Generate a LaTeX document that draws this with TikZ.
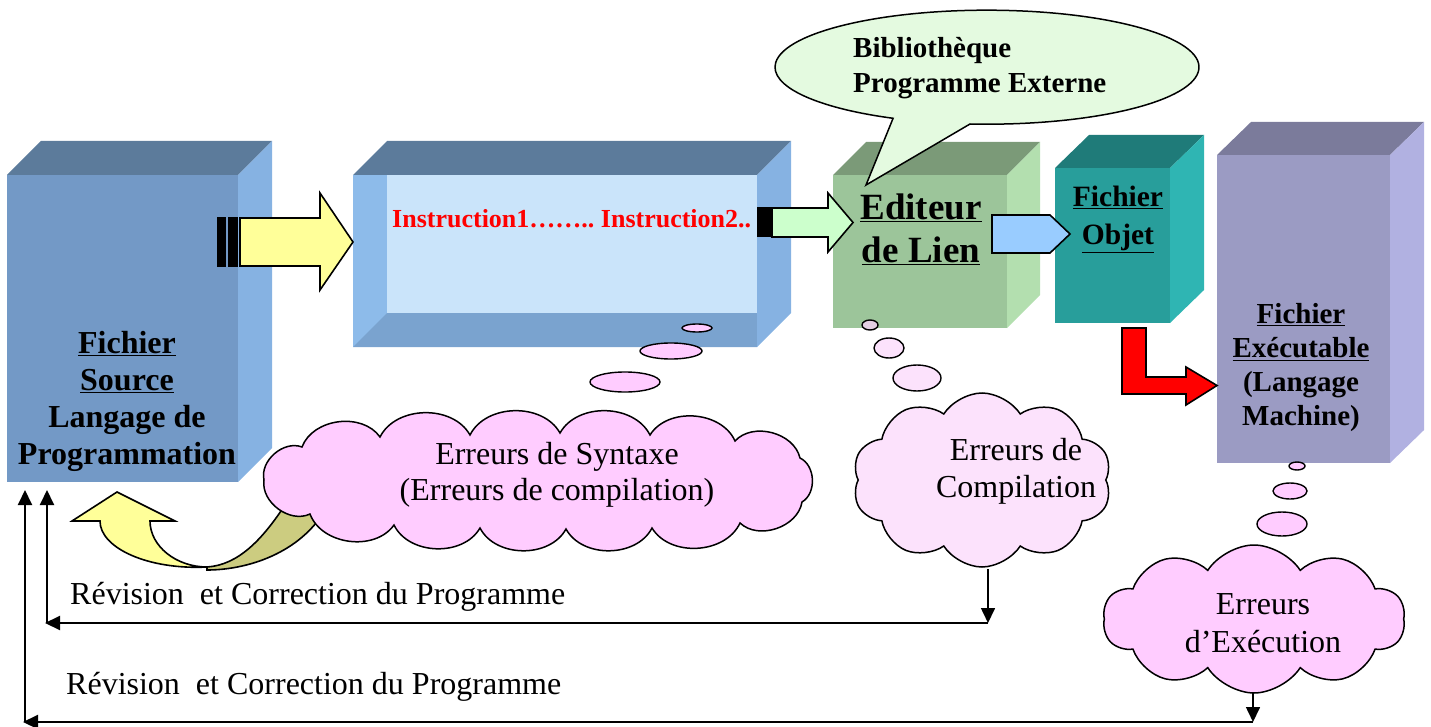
\documentclass[tikz,border=0pt]{standalone}
\usepackage{fontspec}
\setmainfont{Liberation Serif}
\usetikzlibrary{shapes.symbols,arrows.meta}
\definecolor{srcF}{HTML}{7399C6}
\definecolor{srcT}{HTML}{5C7B9B}
\definecolor{srcS}{HTML}{86B2E2}
\definecolor{midI}{HTML}{CAE4FA}
\definecolor{midL}{HTML}{8DBBEA}
\definecolor{midFl}{HTML}{7AA3CF}
\definecolor{edF}{HTML}{9CC59A}
\definecolor{edT}{HTML}{7B9A78}
\definecolor{edS}{HTML}{B3DFAF}
\definecolor{objF}{HTML}{289E9B}
\definecolor{objT}{HTML}{1F7B79}
\definecolor{objS}{HTML}{2FB5B3}
\definecolor{exeF}{HTML}{9B9BC3}
\definecolor{exeT}{HTML}{7B7B9B}
\definecolor{exeS}{HTML}{B1B1E1}
\definecolor{yelA}{HTML}{FFFF99}
\definecolor{olive}{HTML}{CCCC80}
\definecolor{grnA}{HTML}{CCFFCC}
\definecolor{bluA}{HTML}{99CCFF}
\definecolor{pinkA}{HTML}{FFCCFF}
\definecolor{pinkB}{HTML}{FCE2FC}
\definecolor{bubG}{HTML}{E4FAE0}
\begin{document}
\begin{tikzpicture}[x=1pt,y=-1pt,
  face/.style={inner sep=0pt,outer sep=0pt,draw=none},
  blk/.style={draw=black,line width=1.6pt,line join=miter},
  lbl/.style={inner sep=0pt,align=center},
  arr/.style={line width=2pt,-{Triangle[length=15pt,width=14pt]}},
  thought/.style={draw=black,line width=1.4pt,fill=pinkA},
  cl/.style={cloud,cloud ignores aspect,draw=black,line width=1.5pt,inner sep=0pt,outer sep=0pt},
  puff/.style={bend left=62}
]
\useasboundingbox (0,0) rectangle (1431,727);

% ---------- Fichier Source box
\node[face,fill=srcF,minimum width=231pt,minimum height=307pt] (src) at (122.5,328.5) {};
\fill[srcT] (src.north west) -- ++(34,-34) -- ++(231,0) -- (src.north east) -- cycle;
\fill[srcS] (src.north east) -- ++(34,-34) -- ++(0,307) -- (src.south east) -- cycle;

% ---------- Instruction box (open box)
\node[face,fill=midI,minimum width=404pt,minimum height=172pt] (mid) at (555,261) {};
\fill[midL] (mid.north west) rectangle ++(34,172);
\fill[midFl] (mid.south west) -- ++(34,-34) -- ++(370,0) -- ++(0,34) -- cycle;
\fill[srcT] (mid.north west) -- ++(34,-34) -- ++(404,0) -- (mid.north east) -- cycle;
\fill[srcS] (mid.north east) -- ++(34,-34) -- ++(0,172) -- (mid.south east) -- cycle;

% ---------- Editeur de lien box
\node[face,fill=edF,minimum width=174pt,minimum height=153pt] (ed) at (920,251.5) {};
\fill[edT] (ed.north west) -- ++(33,-33) -- ++(174,0) -- (ed.north east) -- cycle;
\fill[edS] (ed.north east) -- ++(33,-33) -- ++(0,153) -- (ed.south east) -- cycle;

% ---------- Fichier Objet box
\node[face,fill=objF,minimum width=115pt,minimum height=155pt] (obj) at (1112.5,245.5) {};
\fill[objT] (obj.north west) -- ++(34,-33) -- ++(115,0) -- (obj.north east) -- cycle;
\fill[objS] (obj.north east) -- ++(34,-33) -- ++(0,155) -- (obj.south east) -- cycle;

% ---------- Fichier Executable box
\node[face,fill=exeF,minimum width=173pt,minimum height=308pt] (exe) at (1303.5,309) {};
\fill[exeT] (exe.north west) -- ++(34,-33) -- ++(173,0) -- (exe.north east) -- cycle;
\fill[exeS] (exe.north east) -- ++(34,-33) -- ++(0,308) -- (exe.south east) -- cycle;

% ---------- block arrows
\fill[black] (217,217) rectangle (226,267);
\fill[black] (228,217) rectangle (238,267);
\filldraw[blk,fill=yelA] (240,218) -- (320,218) -- (320,193) -- (353,242) -- (320,290) -- (320,266) -- (240,266) -- cycle;

\fill[black] (757,207) rectangle (771,237);
\filldraw[blk,fill=grnA] (772,208) -- (828,208) -- (828,193) -- (853,222.5) -- (828,252) -- (828,237) -- (772,237) -- cycle;

\filldraw[blk,fill=bluA] (992,215) -- (1050,215) -- (1070,234) -- (1050,253) -- (992,253) -- cycle;

\filldraw[blk,fill=red] (1122,328) -- (1146,328) -- (1146,377) -- (1186,377) -- (1186,367) -- (1217,385.5) -- (1186,405) -- (1186,394) -- (1122,394) -- cycle;

% ---------- speech bubble
\filldraw[draw=black,line width=1.5pt,fill=bubG] (970,124) arc[start angle=94.6,end angle=-243.7,x radius=212,y radius=57] -- (866,185) -- cycle;
\node[lbl,align=left,anchor=west,font=\bfseries\fontsize{29}{35}\selectfont] (lib) at (853,68) {Biblioth\`eque\\Programme Externe};

% ---------- thought bubbles
\draw[thought] (697,328) ellipse[x radius=15,y radius=4];
\draw[thought] (671,351) ellipse[x radius=31,y radius=8];
\draw[thought] (625,382) ellipse[x radius=35,y radius=10];
\draw[thought,fill=pinkB!80!gray] (870,325) ellipse[x radius=8,y radius=5];
\draw[thought,fill=pinkB] (889,348) ellipse[x radius=15,y radius=10];
\draw[thought,fill=pinkB] (917,378) ellipse[x radius=24,y radius=13];
\draw[thought] (1297,466) ellipse[x radius=8,y radius=4];
\draw[thought] (1290,491) ellipse[x radius=17,y radius=8];
\draw[thought] (1282,524) ellipse[x radius=25,y radius=12];

% ---------- curved return arrow
\filldraw[blk,fill=olive] (207,570) .. controls (245,570) and (295,555) .. (322,515) -- (285,505) .. controls (262,540) and (238,565) .. (207,567) -- cycle;
\filldraw[blk,fill=yelA] (72,521) -- (117,492) -- (175,521) -- (150,521) .. controls (150,546) and (176,567) .. (207,567) .. controls (148,570) and (100,548) .. (100,521) -- cycle;

% ---------- clouds
\coordinate (c1) at (536,481);
\filldraw[draw=black,line width=1.5pt,fill=pinkA]
  (264,480) to[puff] (302,447) to[puff] (380,437) to[puff] (470,435) to[puff] (560,433)
  to[puff] (650,435) to[puff] (735,441) to[puff] (800,458) to[puff] (802,502)
  to[puff] (740,523) to[puff] (652,528) to[puff] (566,529) to[puff] (480,528)
  to[puff] (394,525) to[puff] (310,514) to[puff] cycle;
\node[cl,cloud puffs=10,cloud puff arc=115,fill=pinkB,minimum width=259pt,minimum height=174pt] (c2) at (982,480) {};
\node[cl,cloud puffs=10,cloud puff arc=115,fill=pinkA,minimum width=302pt,minimum height=148pt] (c3) at (1254,619) {};

\node[lbl,font=\fontsize{32}{36}\selectfont] (t1) at (557,475) {Erreurs de Syntaxe\\(Erreurs de compilation)};
\node[lbl,font=\fontsize{32}{37}\selectfont] (t2) at (1016,471) {Erreurs de\\Compilation};
\node[lbl,font=\fontsize{32}{38}\selectfont] (t3) at (1263,623) {Erreurs\\d’Exécution};

% ---------- box labels
\node[lbl,font=\bfseries\fontsize{32}{37}\selectfont] (srcL) at (127,401) {\underline{Fichier}\\\underline{Source}\\Langage de\\Programmation};
\node[lbl,anchor=west,text=red,font=\bfseries\fontsize{26}{30}\selectfont] (instr) at (392,219) {Instruction1……..\ Instruction2..};
\node[lbl,font=\bfseries\fontsize{37}{43}\selectfont] (edL) at (921,229) {\underline{Editeur}\\\underline{de Lien}};
\node[lbl,font=\bfseries\fontsize{29.5}{38}\selectfont] (objL) at (1118,219) {\underline{Fichier}\\\underline{Objet}};
\node[lbl,font=\bfseries\fontsize{29}{34}\selectfont] (exeL) at (1301,368) {\underline{Fichier}\\\underline{Exécutable}\\(Langage\\Machine)};

% ---------- return lines
\coordinate (a0) at (988,569);
\coordinate (a1) at (988,623);
\coordinate (a2) at (45,623);
\coordinate (a3) at (47,623);
\coordinate (a4) at (47,490);
\coordinate (b0) at (1253,692);
\coordinate (b1) at (1253,722);
\coordinate (b2) at (23,722);
\coordinate (b3) at (25,722);
\coordinate (b4) at (25,490);
\draw[arr,line width=1.6pt] (a0) -- (a1);
\draw[arr] (a1) -- (a2);
\draw[arr] (a3) -- (a4);
\draw[arr,line width=1.6pt] (b0) -- (b1);
\draw[arr] (b1) -- (b2);
\draw[arr] (b3) -- (b4);

\node[lbl,anchor=west,font=\fontsize{32}{36}\selectfont] (rev1) at (70,597) {Révision\ \ et Correction du Programme};
\node[lbl,anchor=west,font=\fontsize{32}{36}\selectfont] (rev2) at (66,687) {Révision\ \ et Correction du Programme};
\end{tikzpicture}
\end{document}
